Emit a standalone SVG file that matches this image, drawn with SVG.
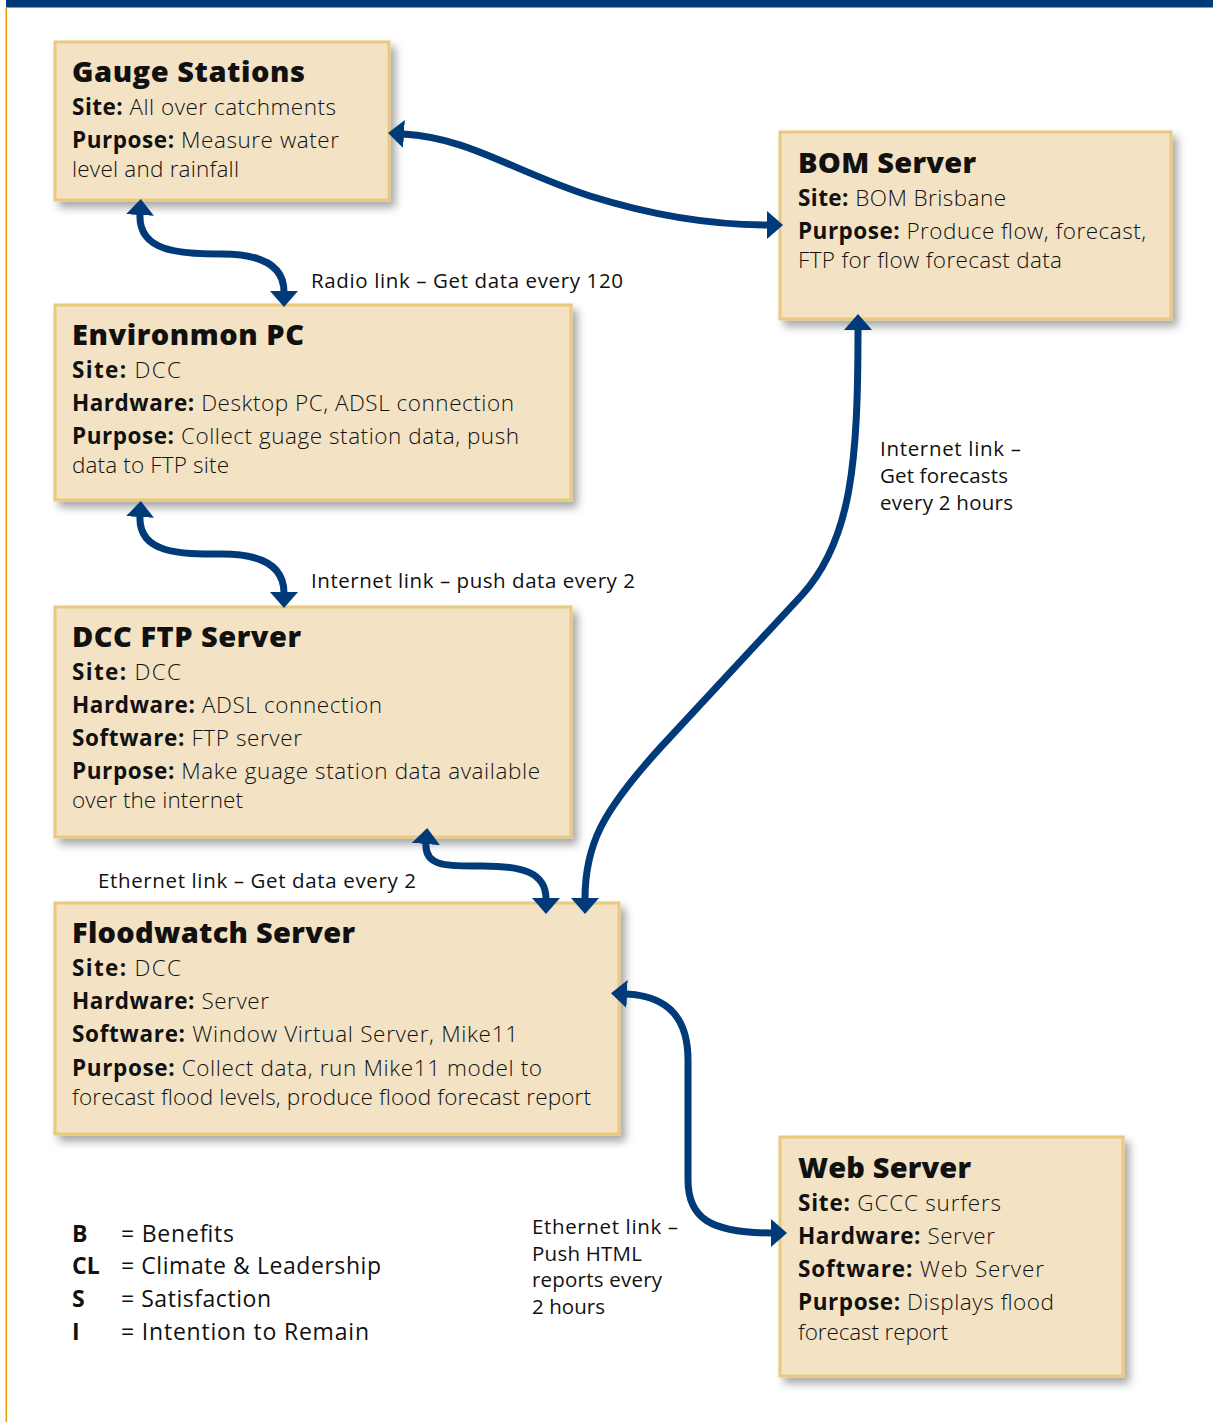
<svg xmlns="http://www.w3.org/2000/svg" width="1213" height="1422" viewBox="0 0 1213 1422">
<style>
.box{fill:#f3e3c4;stroke:#e9c97f;stroke-width:3}
.t{font-family:"Open Sans","Noto Sans","Liberation Sans",sans-serif;fill:#111}
.h{font-size:29px;font-weight:800}
.p{font-size:22.5px;font-weight:300}
.l{font-size:20.5px;font-weight:400}
.g{font-size:23px;font-weight:400}
.b{font-weight:700}
.c{fill:none;stroke:#003a78;stroke-width:7}
</style>
<defs>
<filter id="sh" x="-10%" y="-10%" width="130%" height="140%">
<feDropShadow dx="5" dy="6" stdDeviation="4" flood-color="#000" flood-opacity="0.35"/>
</filter>
<marker id="ah" viewBox="0 0 16 28" refX="1" refY="14" markerWidth="16" markerHeight="28" markerUnits="userSpaceOnUse" orient="auto-start-reverse">
<path d="M0,0 L16,14 L0,28 z" fill="#003a78"/>
</marker>
</defs>
<rect x="0" y="0" width="1213" height="1422" fill="#fff"/>
<rect x="6" y="0" width="1207" height="7.5" fill="#003a78"/>
<rect x="5.5" y="7" width="1.6" height="1415" fill="#e8a300"/>

<g id="gauge-stations">
<rect class="box" x="55" y="42" width="334" height="158" filter="url(#sh)"/>
<text class="t h" x="72" y="82" textLength="233" lengthAdjust="spacing">Gauge Stations</text>
<text class="t p" x="72" y="115" textLength="264" lengthAdjust="spacing"><tspan class="b">Site:</tspan> All over catchments</text>
<text class="t p" x="72" y="148" textLength="267" lengthAdjust="spacing"><tspan class="b">Purpose:</tspan> Measure water</text>
<text class="t p" x="72" y="177" textLength="167" lengthAdjust="spacing">level and rainfall</text>
</g>

<g id="bom-server">
<rect class="box" x="780" y="132" width="391" height="187" filter="url(#sh)"/>
<text class="t h" x="798" y="173" textLength="178" lengthAdjust="spacing">BOM Server</text>
<text class="t p" x="798" y="206" textLength="208" lengthAdjust="spacing"><tspan class="b">Site:</tspan> BOM Brisbane</text>
<text class="t p" x="798" y="239" textLength="348" lengthAdjust="spacing"><tspan class="b">Purpose:</tspan> Produce flow, forecast,</text>
<text class="t p" x="798" y="268" textLength="264" lengthAdjust="spacing">FTP for flow forecast data</text>
</g>

<g id="environmon-pc">
<rect class="box" x="55" y="305" width="516" height="195" filter="url(#sh)"/>
<text class="t h" x="72" y="345" textLength="232" lengthAdjust="spacing">Environmon PC</text>
<text class="t p" x="72" y="378" textLength="109" lengthAdjust="spacing"><tspan class="b">Site:</tspan> DCC</text>
<text class="t p" x="72" y="411" textLength="442" lengthAdjust="spacing"><tspan class="b">Hardware:</tspan> Desktop PC, ADSL connection</text>
<text class="t p" x="72" y="444" textLength="447" lengthAdjust="spacing"><tspan class="b">Purpose:</tspan> Collect guage station data, push</text>
<text class="t p" x="72" y="473" textLength="157" lengthAdjust="spacing">data to FTP site</text>
</g>

<g id="dcc-ftp-server">
<rect class="box" x="55" y="607" width="516" height="230" filter="url(#sh)"/>
<text class="t h" x="72" y="647" textLength="229" lengthAdjust="spacing">DCC FTP Server</text>
<text class="t p" x="72" y="680" textLength="109" lengthAdjust="spacing"><tspan class="b">Site:</tspan> DCC</text>
<text class="t p" x="72" y="713" textLength="310" lengthAdjust="spacing"><tspan class="b">Hardware:</tspan> ADSL connection</text>
<text class="t p" x="72" y="746" textLength="230" lengthAdjust="spacing"><tspan class="b">Software:</tspan> FTP server</text>
<text class="t p" x="72" y="779" textLength="468" lengthAdjust="spacing"><tspan class="b">Purpose:</tspan> Make guage station data available</text>
<text class="t p" x="72" y="808" textLength="171" lengthAdjust="spacing">over the internet</text>
</g>

<g id="floodwatch-server">
<rect class="box" x="55" y="903" width="564" height="231" filter="url(#sh)"/>
<text class="t h" x="72" y="943" textLength="283" lengthAdjust="spacing">Floodwatch Server</text>
<text class="t p" x="72" y="976" textLength="109" lengthAdjust="spacing"><tspan class="b">Site:</tspan> DCC</text>
<text class="t p" x="72" y="1009" textLength="197" lengthAdjust="spacing"><tspan class="b">Hardware:</tspan> Server</text>
<text class="t p" x="72" y="1042" textLength="446" lengthAdjust="spacing"><tspan class="b">Software:</tspan> Window Virtual Server, Mike11</text>
<text class="t p" x="72" y="1076" textLength="470" lengthAdjust="spacing"><tspan class="b">Purpose:</tspan> Collect data, run Mike11 model to</text>
<text class="t p" x="72" y="1105" textLength="519" lengthAdjust="spacing">forecast flood levels, produce flood forecast report</text>
</g>

<g id="web-server">
<rect class="box" x="780" y="1137" width="343" height="239" filter="url(#sh)"/>
<text class="t h" x="798" y="1178" textLength="173" lengthAdjust="spacing">Web Server</text>
<text class="t p" x="798" y="1211" textLength="203" lengthAdjust="spacing"><tspan class="b">Site:</tspan> GCCC surfers</text>
<text class="t p" x="798" y="1244" textLength="197" lengthAdjust="spacing"><tspan class="b">Hardware:</tspan> Server</text>
<text class="t p" x="798" y="1277" textLength="246" lengthAdjust="spacing"><tspan class="b">Software:</tspan> Web Server</text>
<text class="t p" x="798" y="1310" textLength="256" lengthAdjust="spacing"><tspan class="b">Purpose:</tspan> Displays flood</text>
<text class="t p" x="798" y="1340" textLength="150" lengthAdjust="spacing">forecast report</text>
</g>

<g id="connectors">
<path class="c" marker-start="url(#ah)" marker-end="url(#ah)" d="M140,214 C138,252 180,254 222,254 C262,254 284,266 284,292"/>
<path class="c" marker-start="url(#ah)" marker-end="url(#ah)" d="M403,134 C470,138 510,170 590,196 C660,218 720,225 768,225"/>
<path class="c" marker-start="url(#ah)" marker-end="url(#ah)" d="M140,516 C138,554 180,554 222,554 C262,554 284,566 284,593"/>
<path class="c" marker-start="url(#ah)" marker-end="url(#ah)" d="M426,843 C424,868 450,866 482,866 C522,866 546,872 546,899"/>
<path class="c" marker-start="url(#ah)" marker-end="url(#ah)" d="M858,329 C858,460 852,540 802,595 L660,748 C602,812 585,845 585,899"/>
<path class="c" marker-start="url(#ah)" marker-end="url(#ah)" d="M626,994 C670,996 688,1020 688,1060 L688,1180 C688,1218 710,1233 772,1233"/>
<text class="t l" x="311" y="288" textLength="312" lengthAdjust="spacing">Radio link – Get data every 120</text>
<text class="t l" x="311" y="588" textLength="324" lengthAdjust="spacing">Internet link – push data every 2</text>
<text class="t l" x="98" y="888" textLength="318" lengthAdjust="spacing">Ethernet link – Get data every 2</text>
<text class="t l" x="880" y="456" textLength="141" lengthAdjust="spacing">Internet link –</text>
<text class="t l" x="880" y="483" textLength="128" lengthAdjust="spacing">Get forecasts</text>
<text class="t l" x="880" y="510" textLength="133" lengthAdjust="spacing">every 2 hours</text>
<text class="t l" x="532" y="1234" textLength="146" lengthAdjust="spacing">Ethernet link –</text>
<text class="t l" x="532" y="1261" textLength="110" lengthAdjust="spacing">Push HTML</text>
<text class="t l" x="532" y="1287" textLength="130" lengthAdjust="spacing">reports every</text>
<text class="t l" x="532" y="1314" textLength="73" lengthAdjust="spacing">2 hours</text>
</g>

<g id="legend">
<text class="t g b" x="72" y="1242">B</text>
<text class="t g" x="121" y="1242" textLength="113" lengthAdjust="spacing">= Benefits</text>
<text class="t g b" x="72" y="1274">CL</text>
<text class="t g" x="121" y="1274" textLength="260" lengthAdjust="spacing">= Climate &amp; Leadership</text>
<text class="t g b" x="72" y="1307">S</text>
<text class="t g" x="121" y="1307" textLength="150" lengthAdjust="spacing">= Satisfaction</text>
<text class="t g b" x="72" y="1340">I</text>
<text class="t g" x="121" y="1340" textLength="248" lengthAdjust="spacing">= Intention to Remain</text>
</g>
</svg>
